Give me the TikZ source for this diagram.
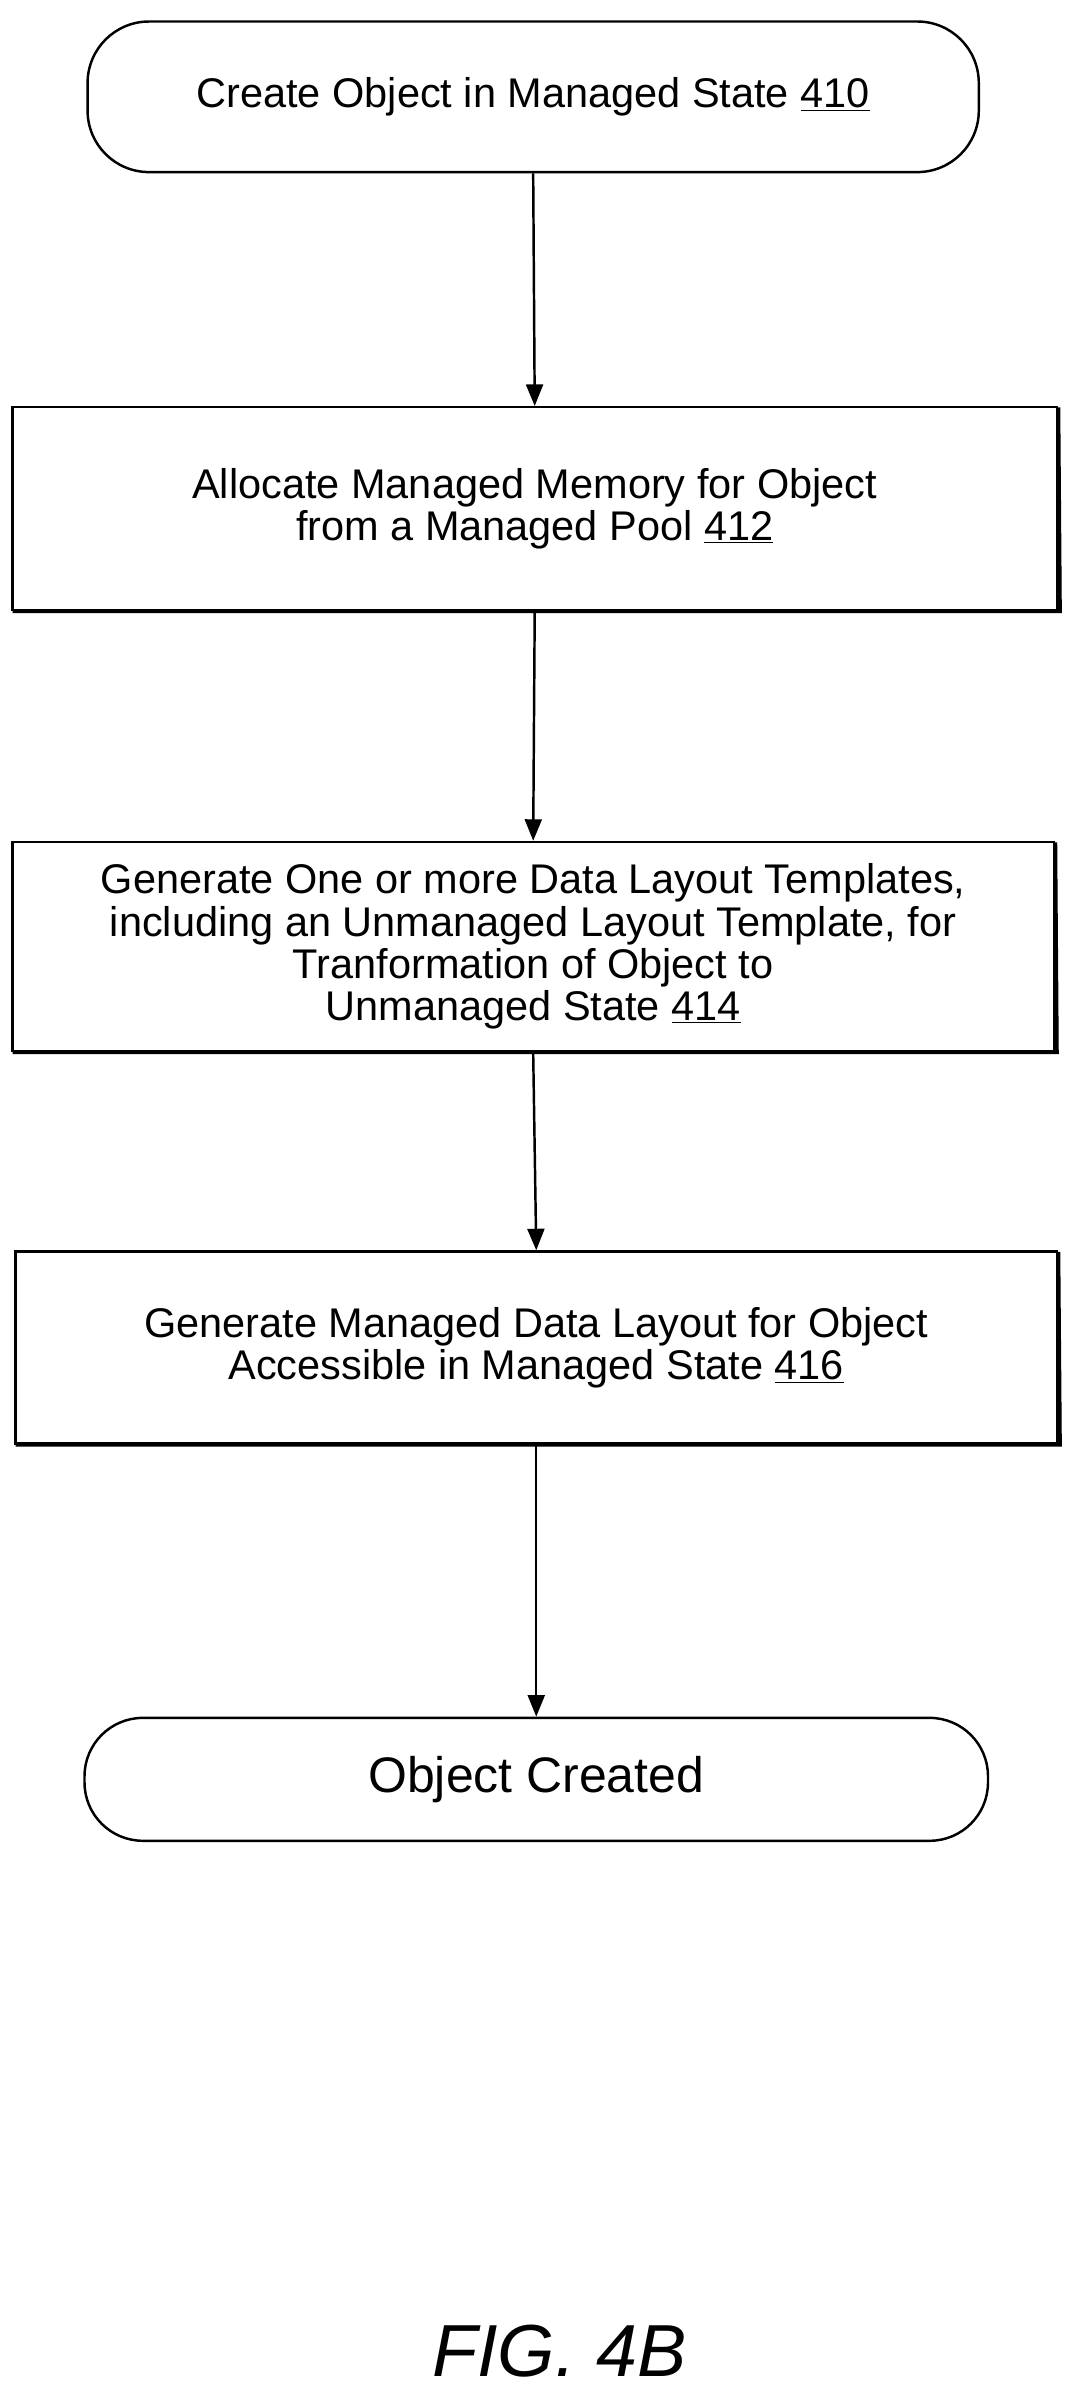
\documentclass[tikz,border=0pt]{standalone}
\usepackage{fontspec}
\setmainfont{Liberation Sans}
\usetikzlibrary{arrows.meta}
\begin{document}
\begin{tikzpicture}[x=1pt,y=-1pt,
  box/.style={draw,line width=1.6pt,inner sep=0pt,align=center,font=\fontsize{27}{27.5}\selectfont},
  term/.style={box,rounded corners=40pt},
  arr/.style={-{Triangle[length=14pt,width=11pt]},line width=1.6pt}]
\useasboundingbox (0,0) rectangle (694,1560);
\node[term,minimum width=580pt,minimum height=98pt] (a) at (347,63) {Create Object in Managed State \underline{410}};
\node[box,minimum width=680pt,minimum height=132pt] (b) at (348,331) {Allocate Managed Memory for Object\\from a Managed Pool \underline{412}};
\node[box,minimum width=678pt,minimum height=136pt] (c) at (347,616) {Generate One or more Data Layout Templates,\\including an Unmanaged Layout Template, for\\Tranformation of Object to\\Unmanaged State \underline{414}};
\node[box,minimum width=678pt,minimum height=125pt] (d) at (349,877) {Generate Managed Data Layout for Object\\Accessible in Managed State \underline{416}};
\node[term,rounded corners=38pt,minimum width=588pt,minimum height=80pt,font=\fontsize{32.5}{36}\selectfont] (e) at (349,1158) {Object Created};
\foreach \n in {b,c,d}{
  \draw[line width=2.5pt] ([xshift=1pt]\n.south west) -- ([xshift=1pt]\n.south east) -- ([yshift=-1pt]\n.north east);}
\draw[arr] (a.south) -- (b.north);
\draw[arr] (b.south) -- (c.north);
\draw[arr] (c.south) -- (d.north);
\draw[arr] (d.south) -- (e.north);
\node[font=\fontsize{48}{52}\selectfont\itshape] (f) at (364,1530) {FIG. 4B};
\end{tikzpicture}
\end{document}
